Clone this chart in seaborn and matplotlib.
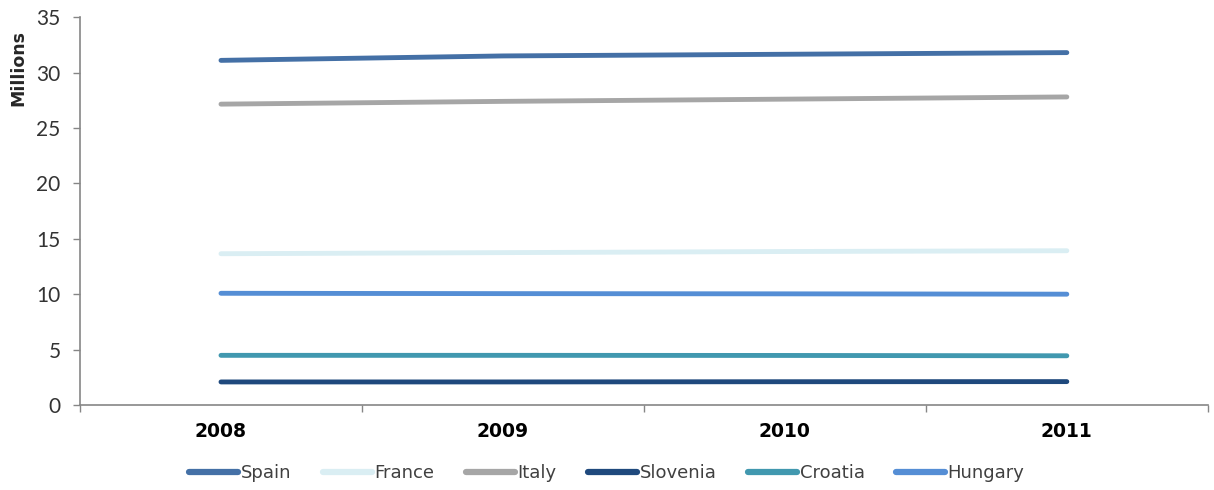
import matplotlib.pyplot as plt
import seaborn as sns
import pandas as pd

years = ["2008", "2009", "2010", "2011"]
countries = ["Spain", "France", "Italy", "Slovenia", "Croatia", "Hungary"]
spain = [31.1, 31.5, 31.65, 31.8]
france = [13.65, 13.75, 13.85, 13.92]
italy = [27.15, 27.4, 27.6, 27.8]
slovenia = [2.08, 2.08, 2.1, 2.11]
croatia = [4.48, 4.48, 4.47, 4.44]
hungary = [10.08, 10.05, 10.03, 10.0]
colors = ["#4470A6", "#DAEEF3", "#A6A6A6", "#1F497D", "#4198AF", "#558ED5"]

series = [spain, france, italy, slovenia, croatia, hungary]
rows = []
for name, vals in zip(countries, series):
    for i, v in enumerate(vals):
        rows.append({"Year": i, "Country": name, "Value": v})
df = pd.DataFrame(rows)

sns.set_style("white")
plt.rcParams["font.family"] = ["DejaVu Sans"]

fig = plt.figure(figsize=(12.14, 4.90), dpi=100)
ax = fig.add_axes([0.0659, 0.1735, 0.929, 0.7915])

sns.lineplot(data=df, x="Year", y="Value", hue="Country", hue_order=countries,
             palette=colors, linewidth=3.5, ax=ax, legend=False,
             solid_capstyle="round")

ax.set_xlim(-0.5, 3.5)
ax.set_ylim(0, 35)
ax.set_yticks(range(0, 36, 5))
ax.set_yticklabels([str(v) for v in range(0, 36, 5)], fontsize=15,
                   family="Lato", color="#333333")
ax.set_xticks(range(4))
ax.set_xticklabels(years, fontsize=13.5, fontweight="bold", color="black")
ax.set_xticks([-0.5, 0.5, 1.5, 2.5, 3.5], minor=True)
ax.tick_params(axis="x", which="major", length=0, pad=12)
ax.tick_params(axis="x", which="minor", length=5, color="#868686", width=1,
               direction="out", bottom=True)
ax.tick_params(axis="y", length=5, color="#868686", width=1, direction="out",
               left=True, pad=9)
ax.set_xlabel("")
ax.set_ylabel("Millions", fontsize=12.5, fontweight="bold")
ax.yaxis.set_label_coords(-0.047, 0.87)

sns.despine(ax=ax)
for s in ["left", "bottom"]:
    ax.spines[s].set_color("#868686")
    ax.spines[s].set_linewidth(1.2)

handles = [plt.Line2D([0], [0], color=c, lw=4.5, solid_capstyle="round") for c in colors]
leg = fig.legend(handles, countries, loc="center", bbox_to_anchor=(0.5, 0.035),
                 ncol=6, frameon=False, handlelength=2.7,
                 handletextpad=0.15, columnspacing=1.75,
                 prop={"family": "DejaVu Sans", "size": 13})
for t in leg.get_texts():
    t.set_color("#404040")

fig.savefig("out.png", dpi=100)
